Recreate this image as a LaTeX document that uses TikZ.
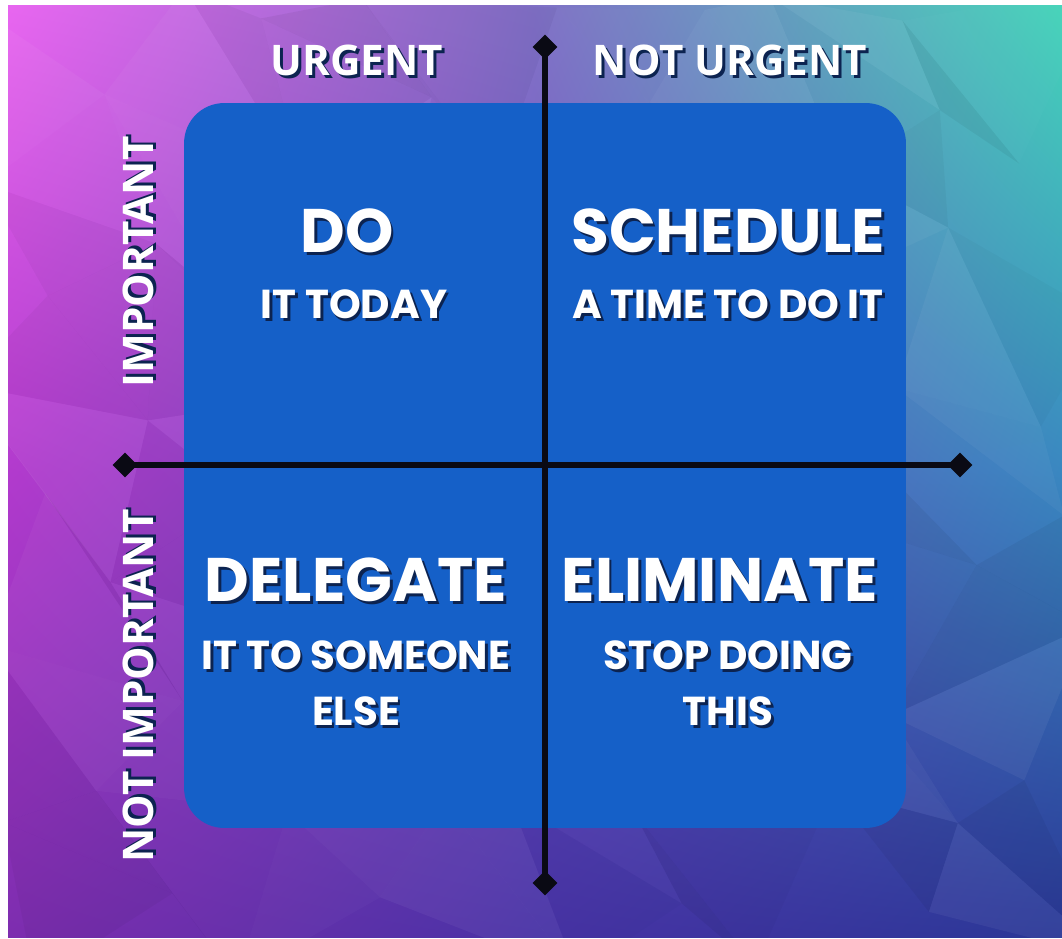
\documentclass[tikz,border=0pt]{standalone}
\usepackage{fontspec}
\newfontfamily\popfont{Poppins}
\newfontfamily\osfont{Open Sans}
\usetikzlibrary{shapes.geometric,shadings}
\definecolor{c00}{RGB}{232,102,240}
\definecolor{c10}{RGB}{128,112,198}
\definecolor{c20}{RGB}{70,212,185}
\definecolor{c01}{RGB}{178,58,205}
\definecolor{c11}{RGB}{105,80,190}
\definecolor{c21}{RGB}{58,135,192}
\definecolor{c02}{RGB}{125,45,175}
\definecolor{c12}{RGB}{72,50,165}
\definecolor{c22}{RGB}{42,55,150}
\definecolor{boxblue}{RGB}{21,96,200}
\definecolor{axisc}{RGB}{10,10,20}
\definecolor{shadowc}{RGB}{12,35,80}
\newcommand{\shd}[1]{\makebox[0pt][l]{\kern1.6pt\raisebox{-1.6pt}{\textcolor{shadowc}{#1}}}#1}
\begin{document}
\begin{tikzpicture}[x=0.02cm,y=-0.02cm,
  dia/.style={shape=diamond, fill=axisc, inner sep=0pt, minimum width=0.5cm, minimum height=0.5cm},
  axis/.style={draw=axisc, line width=3.4pt},
  lbl/.style={text=white, inner sep=1pt, font=\osfont\bfseries\fontsize{24}{28}\selectfont},
  head/.style={text=white, inner sep=1pt, font=\popfont\bfseries\fontsize{35}{40}\selectfont},
  sub/.style={text=white, inner sep=1pt, font=\popfont\bfseries\fontsize{23}{27}\selectfont},
]
\useasboundingbox (0,0) rectangle (1062,939);
\fill[white] (0,0) rectangle (1062,939);
% background gradient: four bilinear quadrants
\shade[upper left=c00, upper right=c10, lower left=c01, lower right=c11] (8,6) rectangle (535.5,471.5);
\shade[upper left=c10, upper right=c20, lower left=c11, lower right=c21] (535,6) rectangle (1062,471.5);
\shade[upper left=c01, upper right=c11, lower left=c02, lower right=c12] (8,471) rectangle (535.5,937);
\shade[upper left=c11, upper right=c21, lower left=c12, lower right=c22] (535,471) rectangle (1062,937);
% low-poly facets
\begin{scope}
\clip (8,6) rectangle (1062,937);
\foreach \i in {0,...,7}{
  \foreach \j in {0,...,6}{
    \pgfmathtruncatemacro{\ii}{\i+1}
    \pgfmathtruncatemacro{\jj}{\j+1}
    \pgfmathsetmacro{\ax}{8+\i*132+45*sin(\i*97+\j*211)}
    \pgfmathsetmacro{\ay}{6+\j*133+45*sin(\i*173+\j*59+30)}
    \pgfmathsetmacro{\bx}{8+\ii*132+45*sin(\ii*97+\j*211)}
    \pgfmathsetmacro{\by}{6+\j*133+45*sin(\ii*173+\j*59+30)}
    \pgfmathsetmacro{\cx}{8+\ii*132+45*sin(\ii*97+\jj*211)}
    \pgfmathsetmacro{\cy}{6+\jj*133+45*sin(\ii*173+\jj*59+30)}
    \pgfmathsetmacro{\dx}{8+\i*132+45*sin(\i*97+\jj*211)}
    \pgfmathsetmacro{\dy}{6+\jj*133+45*sin(\i*173+\jj*59+30)}
    \pgfmathsetmacro{\sa}{sin(\i*311+\j*157)}
    \pgfmathsetmacro{\sb}{sin(\i*83+\j*269+50)}
    \pgfmathsetmacro{\oa}{0.05*abs(\sa)}
    \pgfmathsetmacro{\ob}{0.05*abs(\sb)}
    \pgfmathsetmacro{\fa}{\sa>0?1:0}
    \pgfmathsetmacro{\fb}{\sb>0?1:0}
    \ifdim\fa pt>0.5pt \def\colA{white}\else\def\colA{black}\fi
    \ifdim\fb pt>0.5pt \def\colB{white}\else\def\colB{black}\fi
    \fill[\colA, fill opacity=\oa] (\ax,\ay) -- (\bx,\by) -- (\cx,\cy) -- cycle;
    \fill[\colB, fill opacity=\ob] (\ax,\ay) -- (\cx,\cy) -- (\dx,\dy) -- cycle;
  }
}
\end{scope}
% blue board
\node[fill=boxblue, rounded corners=0.8cm, minimum width=14.44cm, minimum height=14.5cm, inner sep=0pt] (board) at (545,465.5) {};
% axes
\node[dia] (top) at (545,47) {};
\node[dia] (bot) at (545,883) {};
\node[dia] (lft) at (125,465) {};
\node[dia] (rgt) at (960,465) {};
\draw[axis] (top.center) -- (bot.center);
\draw[axis] (lft.center) -- (rgt.center);
% axis labels
\node[lbl] (urg) at (357,62) {\shd{URGENT}};
\node[lbl] (nurg) at (730,62) {\shd{NOT URGENT}};
\node[lbl, rotate=90] (imp) at (140,262) {\shd{IMPORTANT}};
\node[lbl, rotate=90] (nimp) at (140,686) {\shd{NOT IMPORTANT}};
% quadrant texts
\node[head] (do) at (347,232) {\shd{DO}};
\node[sub] (dosub) at (354,306) {\shd{IT TODAY}};
\node[head] (sch) at (728,232) {\shd{SCHEDULE}};
\node[sub] (schsub) at (728,306) {\shd{A TIME TO DO IT}};
\node[head] (del) at (356,581) {\shd{DELEGATE}};
\node[sub] (delsuba) at (356,657) {\shd{IT TO SOMEONE}};
\node[sub] (delsubb) at (356,713) {\shd{ELSE}};
\node[head] (eli) at (720,581) {\shd{ELIMINATE}};
\node[sub] (elisuba) at (728,657) {\shd{STOP DOING}};
\node[sub] (elisubb) at (728,713) {\shd{THIS}};
\end{tikzpicture}
\end{document}
